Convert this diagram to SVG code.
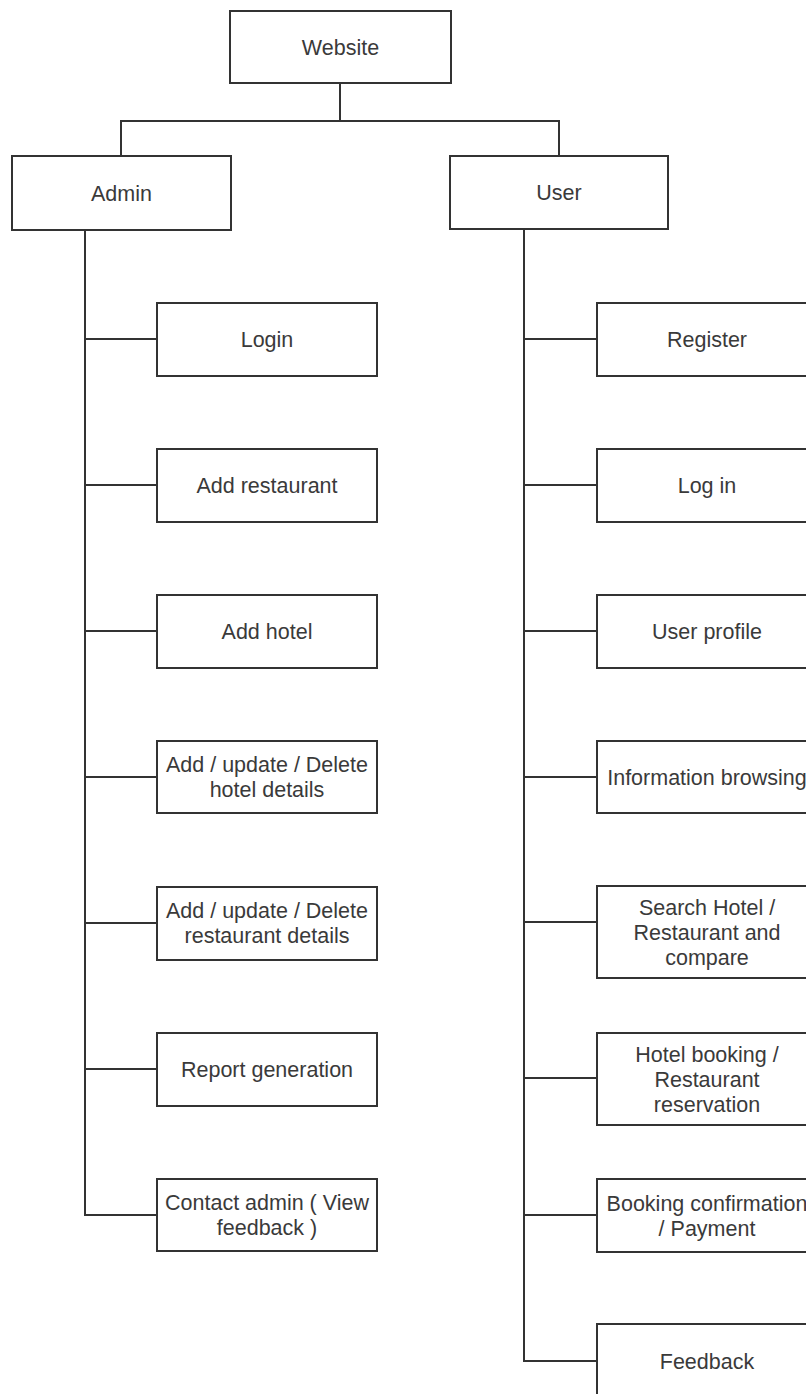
<svg xmlns="http://www.w3.org/2000/svg" width="806" height="1394" viewBox="0 0 806 1394">
<style>
.box{fill:#fff;stroke:#333;stroke-width:2}
.lbl{font-family:"Liberation Sans",Arial,sans-serif;font-size:21.5px;fill:#3a3a3a;text-anchor:middle}
.ln{fill:none;stroke:#333;stroke-width:2}
</style>
<rect width="806" height="1394" fill="#fff"/>
<g id="connectors">
<path class="ln" d="M340 83V121M121 156V121H559V156"/>
<path class="ln" d="M85 230V1215H157"/>
<path class="ln" d="M85 339H157M85 485H157M85 631H157M85 777H157M85 923H157M85 1069H157"/>
<path class="ln" d="M524 229V1361H597"/>
<path class="ln" d="M524 339H597M524 485H597M524 631H597M524 777H597M524 922H597M524 1078H597M524 1215H597"/>
</g>
<g id="website"><rect class="box" x="230" y="11" width="221" height="72"/><text class="lbl" x="340.5" y="55">Website</text></g>
<g id="admin"><rect class="box" x="12" y="156" width="219" height="74"/><text class="lbl" x="121.5" y="201">Admin</text></g>
<g id="user"><rect class="box" x="450" y="156" width="218" height="73"/><text class="lbl" x="559" y="200">User</text></g>
<g id="login"><rect class="box" x="157" y="303" width="220" height="73"/><text class="lbl" x="267" y="347">Login</text></g>
<g id="add-restaurant"><rect class="box" x="157" y="449" width="220" height="73"/><text class="lbl" x="267" y="493">Add restaurant</text></g>
<g id="add-hotel"><rect class="box" x="157" y="595" width="220" height="73"/><text class="lbl" x="267" y="639">Add hotel</text></g>
<g id="hotel-details"><rect class="box" x="157" y="741" width="220" height="72"/><text class="lbl" x="267" y="772">Add / update / Delete</text><text class="lbl" x="267" y="797">hotel details</text></g>
<g id="restaurant-details"><rect class="box" x="157" y="887" width="220" height="73"/><text class="lbl" x="267" y="918">Add / update / Delete</text><text class="lbl" x="267" y="943">restaurant details</text></g>
<g id="report"><rect class="box" x="157" y="1033" width="220" height="73"/><text class="lbl" x="267" y="1077">Report generation</text></g>
<g id="contact-admin"><rect class="box" x="157" y="1179" width="220" height="72"/><text class="lbl" x="267" y="1210">Contact admin ( View</text><text class="lbl" x="267" y="1235">feedback )</text></g>
<g id="register"><rect class="box" x="597" y="303" width="220" height="73"/><text class="lbl" x="707" y="347">Register</text></g>
<g id="log-in"><rect class="box" x="597" y="449" width="220" height="73"/><text class="lbl" x="707" y="493">Log in</text></g>
<g id="user-profile"><rect class="box" x="597" y="595" width="220" height="73"/><text class="lbl" x="707" y="639">User profile</text></g>
<g id="info-browsing"><rect class="box" x="597" y="741" width="220" height="72"/><text class="lbl" x="707" y="785">Information browsing</text></g>
<g id="search"><rect class="box" x="597" y="886" width="220" height="92"/><text class="lbl" x="707" y="915">Search Hotel /</text><text class="lbl" x="707" y="940">Restaurant and</text><text class="lbl" x="707" y="965">compare</text></g>
<g id="booking"><rect class="box" x="597" y="1033" width="220" height="92"/><text class="lbl" x="707" y="1062">Hotel booking /</text><text class="lbl" x="707" y="1087">Restaurant</text><text class="lbl" x="707" y="1112">reservation</text></g>
<g id="confirmation"><rect class="box" x="597" y="1179" width="220" height="73"/><text class="lbl" x="707" y="1211">Booking confirmation</text><text class="lbl" x="707" y="1236">/ Payment</text></g>
<g id="feedback"><rect class="box" x="597" y="1324" width="220" height="74"/><text class="lbl" x="707" y="1369">Feedback</text></g>
</svg>
